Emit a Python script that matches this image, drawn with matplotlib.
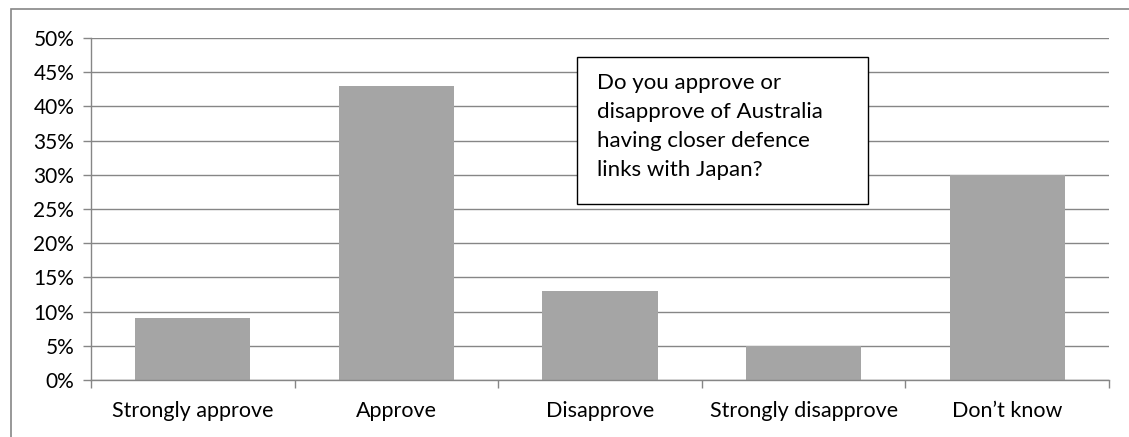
import matplotlib
matplotlib.use("Agg")
import matplotlib.pyplot as plt
from matplotlib.patches import Rectangle
from matplotlib.ticker import MultipleLocator, FuncFormatter

categories = ["Strongly approve", "Approve", "Disapprove", "Strongly disapprove", "Don\u2019t know"]
values = [9, 43, 13, 5, 30]
question = "Do you approve or\ndisapprove of Australia\nhaving closer defence\nlinks with Japan?"

plt.rcParams['font.family'] = ['Lato', 'DejaVu Sans']

W, H = 1129, 437
fig = plt.figure(figsize=(W / 100, H / 100), dpi=100)

# outer chart frame (runs off the right and bottom edges)
fig.patches.append(Rectangle((11 / W, -0.05), 1.2, (H - 9) / H + 0.05, transform=fig.transFigure,
                             fill=False, edgecolor="#868686", linewidth=1.2))

ax = fig.add_axes([91 / W, (H - 380) / H, (1109 - 91) / W, (380 - 38) / H])
x = list(range(len(categories)))
ax.bar(x, values, width=0.565, color="#A5A5A5", zorder=2)
ax.set_xlim(-0.5, len(categories) - 0.5)
ax.set_ylim(0, 50)
ax.yaxis.set_major_locator(MultipleLocator(5))
ax.yaxis.set_major_formatter(FuncFormatter(lambda v, p: f"{int(v)}%"))
ax.grid(axis="y", color="#868686", linewidth=1.0, zorder=0)
ax.set_axisbelow(True)
for s in ["top", "right"]:
    ax.spines[s].set_visible(False)
for s in ["left", "bottom"]:
    ax.spines[s].set_color("#868686")
    ax.spines[s].set_linewidth(1.0)

ax.set_xticks(x)
ax.set_xticklabels(categories, fontsize=15.5)
ax.tick_params(axis="x", length=0, pad=15)
ax.set_xticks([i - 0.5 for i in range(len(categories) + 1)], minor=True)
ax.tick_params(axis="x", which="minor", length=6, color="#868686", width=1.0)
ax.tick_params(axis="y", length=6, color="#868686", width=1.0, labelsize=15, pad=6)

# question box
box = Rectangle((577 / W, (H - 204) / H), (868 - 577) / W, (204 - 57) / H, transform=fig.transFigure,
                facecolor="white", edgecolor="black", linewidth=1.0, zorder=5)
fig.patches.append(box)
fig.text(597 / W, (H - 73) / H, question, fontsize=16, va="top", ha="left",
         linespacing=1.57, zorder=6)

fig.savefig("out.png", dpi=100)
